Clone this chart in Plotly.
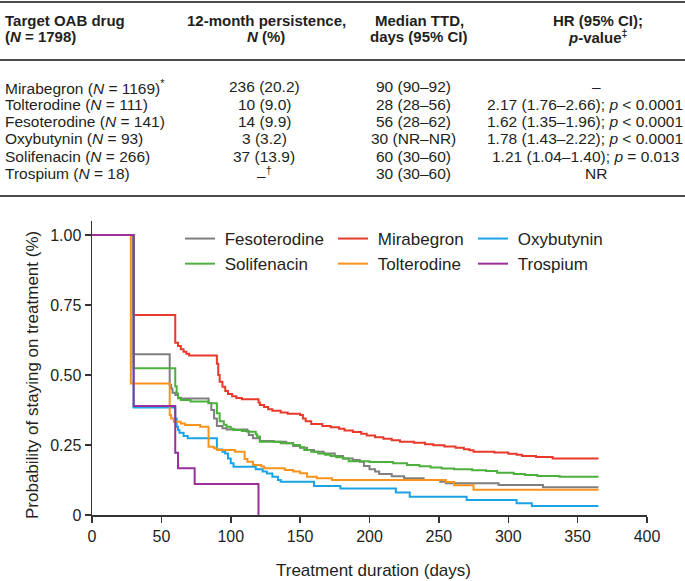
import plotly.graph_objects as go

# ---------------- Data ----------------
drugs = ["Fesoterodine", "Mirabegron", "Oxybutynin", "Solifenacin", "Tolterodine", "Trospium"]
colors = ["#7f7f7f", "#e8392b", "#1ba3e6", "#4cb03c", "#f7941d", "#9b2f9b"]
legend_ids = ["legend", "legend2", "legend3", "legend", "legend2", "legend3"]

fes_t = [0, 30, 56, 57, 58, 60, 62, 64, 84, 86, 88, 90, 94, 97, 112, 113, 116, 121, 131, 140, 145, 150, 155, 160, 167, 175, 181, 188, 193, 196, 200, 204, 207, 216, 225, 239, 251, 255, 293, 325, 365]
fes_s = [1.0, 0.574, 0.464, 0.452, 0.437, 0.429, 0.419, 0.416, 0.400, 0.375, 0.345, 0.318, 0.310, 0.305, 0.300, 0.286, 0.274, 0.264, 0.262, 0.256, 0.246, 0.240, 0.232, 0.226, 0.220, 0.211, 0.202, 0.196, 0.190, 0.175, 0.163, 0.155, 0.146, 0.138, 0.131, 0.125, 0.119, 0.113, 0.107, 0.099, 0.099]

mir_t = [0, 30, 60, 62, 64, 66, 68, 70, 90, 91, 92, 94, 96, 98, 101, 104, 108, 120, 121, 124, 127, 130, 136, 141, 150, 152, 154, 158, 166, 172, 178, 182, 188, 194, 198, 204, 210, 216, 222, 232, 240, 246, 254, 262, 268, 272, 275, 290, 300, 306, 310, 320, 332, 365]
mir_s = [1.0, 0.714, 0.615, 0.604, 0.592, 0.583, 0.576, 0.570, 0.540, 0.500, 0.476, 0.458, 0.443, 0.432, 0.424, 0.418, 0.413, 0.402, 0.393, 0.386, 0.378, 0.372, 0.366, 0.362, 0.357, 0.345, 0.335, 0.325, 0.318, 0.313, 0.308, 0.302, 0.296, 0.290, 0.284, 0.278, 0.272, 0.267, 0.262, 0.258, 0.253, 0.249, 0.245, 0.240, 0.235, 0.231, 0.226, 0.223, 0.219, 0.215, 0.211, 0.207, 0.202, 0.202]

oxy_t = [0, 30, 60, 61, 62, 63, 66, 69, 90, 94, 96, 98, 100, 102, 118, 123, 126, 130, 134, 136, 160, 179, 219, 229, 270, 306, 317, 365]
oxy_s = [1.0, 0.384, 0.345, 0.315, 0.304, 0.294, 0.282, 0.274, 0.234, 0.226, 0.220, 0.202, 0.185, 0.172, 0.163, 0.155, 0.148, 0.137, 0.125, 0.119, 0.104, 0.095, 0.080, 0.065, 0.054, 0.042, 0.032, 0.032]

sol_t = [0, 30, 60, 61, 62, 64, 71, 84, 90, 92, 95, 97, 100, 102, 108, 112, 118, 119, 121, 136, 145, 150, 153, 158, 163, 168, 172, 176, 181, 185, 200, 217, 227, 236, 244, 252, 261, 274, 284, 292, 304, 312, 321, 337, 365]
sol_s = [1.0, 0.524, 0.460, 0.434, 0.417, 0.411, 0.405, 0.399, 0.363, 0.335, 0.322, 0.315, 0.308, 0.304, 0.300, 0.297, 0.288, 0.280, 0.262, 0.256, 0.250, 0.242, 0.232, 0.226, 0.220, 0.215, 0.211, 0.206, 0.202, 0.192, 0.189, 0.185, 0.179, 0.174, 0.170, 0.166, 0.163, 0.160, 0.157, 0.151, 0.146, 0.143, 0.139, 0.137, 0.137]

tol_t = [0, 28, 56, 57, 59, 64, 67, 78, 84, 88, 90, 103, 110, 112, 116, 122, 124, 139, 145, 150, 155, 162, 173, 255, 261, 275, 365]
tol_s = [1.0, 0.470, 0.357, 0.345, 0.333, 0.327, 0.321, 0.315, 0.244, 0.238, 0.232, 0.226, 0.200, 0.190, 0.179, 0.173, 0.167, 0.161, 0.155, 0.149, 0.137, 0.131, 0.125, 0.118, 0.106, 0.090, 0.090]

tro_t = [0, 30, 60, 62, 74, 120]
tro_s = [1.0, 0.389, 0.222, 0.167, 0.111, 0.0]

times = [fes_t, mir_t, oxy_t, sol_t, tol_t, tro_t]
survs = [fes_s, mir_s, oxy_s, sol_s, tol_s, tro_s]

x_ticks = [0, 50, 100, 150, 200, 250, 300, 350, 400]
y_ticks = [0, 0.25, 0.5, 0.75, 1.0]
y_ticklabels = ["0", "0.25", "0.50", "0.75", "1.00"]

# Table
table_header_1 = ["Target OAB drug", "12-month persistence,", "Median TTD,", "HR (95% CI);"]
table_header_2 = ["(<i>N</i> = 1798)", "<i>N</i> (%)", "days (95% CI)", "<i>p</i>-value<sup>‡</sup>"]
row_drug = ["Mirabegron (<i>N</i> = 1169)<sup>*</sup>", "Tolterodine (<i>N</i> = 111)", "Fesoterodine (<i>N</i> = 141)",
            "Oxybutynin (<i>N</i> = 93)", "Solifenacin (<i>N</i> = 266)", "Trospium (<i>N</i> = 18)"]
row_persist = ["236 (20.2)", "10 (9.0)", "14 (9.9)", "3 (3.2)", "37 (13.9)", "–<sup>†</sup>"]
row_ttd = ["90 (90–92)", "28 (28–56)", "56 (28–62)", "30 (NR–NR)", "60 (30–60)", "30 (30–60)"]
row_hr = ["–", "2.17 (1.76–2.66); <i>p</i> &lt; 0.0001", "1.62 (1.35–1.96); <i>p</i> &lt; 0.0001",
          "1.78 (1.43–2.22); <i>p</i> &lt; 0.0001", "1.21 (1.04–1.40); <i>p</i> = 0.013", "NR"]

# ---------------- Layout geometry (pixels) ----------------
W, H = 685, 581
L, R, T, B = 92, 647, 221, 515
YMAX = 1.05
FONT = "Arial, 'Liberation Sans', Helvetica, sans-serif"
TXT = "#231f20"

def px(xp):
    return (xp - L) / (R - L)

def py(yp):
    return (B - yp) / (B - T)

fig = go.Figure()
for d, c, lg, t, s in zip(drugs, colors, legend_ids, times, survs):
    fig.add_trace(go.Scatter(x=t, y=s, mode="lines", name="\u00a0" + d,
                             line=dict(color=c, width=2, shape="hv"),
                             legend=lg, hoverinfo="skip"))

annotations = []
shapes = []

# table lines
for yl in [2, 60, 196]:
    shapes.append(dict(type="line", xref="paper", yref="paper", x0=px(0), x1=px(685), y0=py(yl), y1=py(yl),
                       line=dict(color="#4d4d4d", width=2)))

col_x = [3, 266, 419, 598]
col_anchor = ["left", "center", "center", "center"]
hy = [20, 36]
for i in range(4):
    for txt, yy in zip([table_header_1[i], table_header_2[i]], hy):
        annotations.append(dict(text="<b>" + txt + "</b>", x=px(col_x[i]), y=py(yy), xref="paper", yref="paper",
                                xanchor=col_anchor[i], yanchor="middle", showarrow=False,
                                font=dict(size=15, family=FONT, color=TXT)))

row_y0, row_dy = 87, 17.3
val_x = [3, 264, 413, 585]
for r in range(6):
    yy = row_y0 + r * row_dy
    for i, vals in enumerate([row_drug, row_persist, row_ttd, row_hr]):
        xx = val_x[i]
        if i == 3 and vals[r] in ("–", "NR"):
            xx = 596
        annotations.append(dict(text=vals[r], x=px(xx), y=py(yy), xref="paper", yref="paper",
                                xanchor=col_anchor[i], yanchor="middle", showarrow=False,
                                font=dict(size=15.5, family=FONT, color=TXT)))

# axis titles
annotations.append(dict(text="Probability of staying on treatment (%)", x=px(32), y=0.5, xref="paper", yref="y",
                        textangle=-90, showarrow=False, xanchor="center", yanchor="middle",
                        font=dict(size=17, family=FONT, color=TXT)))
annotations.append(dict(text="Treatment duration (days)", x=px(373), y=py(570), xref="paper", yref="paper",
                        showarrow=False, xanchor="center", yanchor="middle",
                        font=dict(size=17, family=FONT, color=TXT)))

leg_common = dict(orientation="v", yanchor="top", xanchor="left", bgcolor="rgba(0,0,0,0)",
                  font=dict(size=17, family=FONT, color=TXT), traceorder="normal", itemwidth=30)
fig.update_layout(
    width=W, height=H,
    margin=dict(l=L, r=W - R, t=T, b=H - B, pad=0),
    paper_bgcolor="white", plot_bgcolor="white",
    font=dict(family=FONT, color=TXT, size=16),
    showlegend=True,
    legend=dict(x=px(180), y=py(221), **leg_common),
    legend2=dict(x=px(333), y=py(221), **leg_common),
    legend3=dict(x=px(473), y=py(221), **leg_common),
    xaxis=dict(range=[0, 400], tickvals=x_ticks, ticks="outside", ticklen=6, tickwidth=1.5, tickcolor="#333",
               showline=True, linecolor="#333", linewidth=1.5, showgrid=False, zeroline=False,
               tickfont=dict(size=16, family=FONT, color=TXT)),
    yaxis=dict(range=[0, YMAX], tickvals=y_ticks, ticktext=y_ticklabels, ticks="outside", ticklen=6,
               tickwidth=1.5, tickcolor="#333", showline=True, linecolor="#333", linewidth=1.5,
               showgrid=False, zeroline=False, tickfont=dict(size=16, family=FONT, color=TXT)),
    annotations=annotations,
    shapes=shapes,
)

fig.write_html("out.html", config={"displayModeBar": False, "staticPlot": True},
               post_script="document.body.style.margin='0';document.body.style.overflow='hidden';")
